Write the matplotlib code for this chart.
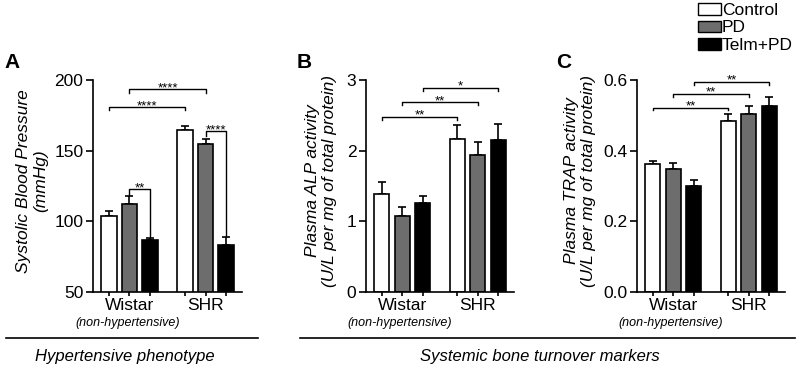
import matplotlib
matplotlib.use("Agg")
import matplotlib.pyplot as plt
from matplotlib.lines import Line2D
from matplotlib.patches import Patch
import numpy as np

plt.rcParams['font.family'] = ['Liberation Sans', 'DejaVu Sans']

# ---------------- data ----------------
groups = ["Wistar", "SHR"]
group_note = "(non-hypertensive)"
treatments = ["Control", "PD", "Telm+PD"]

# Panel A: systolic blood pressure (mmHg)
sbp_mean = {"Control": [103.8, 164.9], "PD": [112.6, 155.0], "Telm+PD": [86.9, 83.3]}
sbp_err = {"Control": [3.3, 2.2], "PD": [5.3, 3.0], "Telm+PD": [1.6, 5.6]}
# Panel B: plasma ALP activity
alp_mean = {"Control": [1.39, 2.17], "PD": [1.08, 1.94], "Telm+PD": [1.26, 2.15]}
alp_err = {"Control": [0.16, 0.20], "PD": [0.12, 0.18], "Telm+PD": [0.10, 0.23]}
# Panel C: plasma TRAP activity
trap_mean = {"Control": [0.361, 0.483], "PD": [0.349, 0.505], "Telm+PD": [0.299, 0.527]}
trap_err = {"Control": [0.011, 0.022], "PD": [0.016, 0.022], "Telm+PD": [0.017, 0.026]}

# significance brackets: (group1, treat1, group2, treat2, y, label, left leg end, right leg end)
brackets_A = [(0, 0, 1, 0, 180.9, "****", 178.6, 178.6),
              (0, 1, 1, 1, 193.4, "****", 191.1, 191.1),
              (1, 1, 1, 2, 163.9, "****", 160.6, 89.5),
              (0, 1, 0, 2, 122.6, "**", 118.3, 89.0)]
brackets_B = [(0, 0, 1, 0, 2.48, "**", 2.44, 2.44),
              (0, 1, 1, 1, 2.69, "**", 2.65, 2.65),
              (0, 2, 1, 2, 2.89, "*", 2.85, 2.85)]
brackets_C = [(0, 0, 1, 0, 0.522, "**", 0.514, 0.514),
              (0, 1, 1, 1, 0.561, "**", 0.553, 0.553),
              (0, 2, 1, 2, 0.595, "**", 0.587, 0.587)]

ylabels = ["Systolic Blood Pressure\n(mmHg)",
           "Plasma ALP activity\n(U/L per mg of total protein)",
           "Plasma TRAP activity\n(U/L per mg of total protein)"]
yticks = [[50, 100, 150, 200], [0, 1, 2, 3], [0.0, 0.2, 0.4, 0.6]]
yticklabels = [["50", "100", "150", "200"], ["0", "1", "2", "3"], ["0.0", "0.2", "0.4", "0.6"]]
ylims = [(50, 200), (0, 3), (0, 0.6)]
panel_letters = ["A", "B", "C"]
section_titles = ["Hypertensive phenotype", "Systemic bone turnover markers"]

# ---------------- style ----------------
W, H = 799, 368
fig = plt.figure(figsize=(W / 100, H / 100), dpi=100)
colors = {"Control": "white", "PD": "#6d6d6d", "Telm+PD": "black"}
offsets = [-0.27, 0.0, 0.27]
bar_w = 0.2

def px_axes(l, r, top, bot):
    return fig.add_axes([l / W, 1 - bot / H, (r - l) / W, (bot - top) / H])

axes_px = [(93, 242, 80, 292), (366, 514, 80, 292), (637, 785, 80, 292)]
means = [sbp_mean, alp_mean, trap_mean]
errs = [sbp_err, alp_err, trap_err]
brackets = [brackets_A, brackets_B, brackets_C]
ylab_x = [32, 321, 580]
letter_x = [4, 297, 556]

gx = np.arange(len(groups))
for i in range(3):
    ax = px_axes(*axes_px[i])
    allpos = []
    for t, tr in enumerate(treatments):
        pos = gx + offsets[t]
        allpos.extend(pos)
        ax.bar(pos, means[i][tr], width=bar_w, color=colors[tr], edgecolor="black",
               linewidth=1.2, zorder=2)
        ax.errorbar(pos, means[i][tr], yerr=[np.zeros(len(groups)), errs[i][tr]],
                    fmt="none", ecolor="black", elinewidth=1.2, capsize=2.6,
                    capthick=1.2, zorder=1)
    ax.set_xlim(-0.48, 1.48)
    ax.set_ylim(*ylims[i])
    ax.set_yticks(yticks[i])
    ax.set_yticklabels(yticklabels[i], fontsize=12.5)
    ax.set_xticks(sorted(allpos))
    ax.set_xticklabels([])
    ax.tick_params(axis="y", length=5, width=1.2, pad=2)
    ax.tick_params(axis="x", length=3, width=1.2)
    for s in ["top", "right"]:
        ax.spines[s].set_visible(False)
    for s in ["left", "bottom"]:
        ax.spines[s].set_linewidth(1.2)
    trans = ax.get_xaxis_transform()
    for g, name in enumerate(groups):
        ax.text(gx[g], -0.062, name, transform=trans, ha="center", va="center", fontsize=12.5)
    ax.text(gx[0] - 0.03, -0.147, group_note, transform=trans, ha="center", va="center",
            fontsize=9, style="italic")
    # brackets
    for g1, t1, g2, t2, y, lab, l1, l2 in brackets[i]:
        x1 = gx[g1] + offsets[t1]
        x2 = gx[g2] + offsets[t2]
        ax.plot([x1, x1, x2, x2], [l1, y, y, l2], color="black", lw=1.0,
                clip_on=False, zorder=3)
        ax.annotate(lab, xy=((x1 + x2) / 2, y), xytext=(0, -1.5),
                    textcoords="offset points", ha="center", va="baseline",
                    fontsize=9.5, annotation_clip=False)
    # y label
    fig.text(ylab_x[i] / W, 1 - 181 / H, ylabels[i], rotation=90, ha="center",
             va="center", multialignment="center", fontsize=12.5, style="italic",
             linespacing=1.2)
    fig.text(letter_x[i] / W, 1 - 62 / H, panel_letters[i], fontsize=15,
             fontweight="bold", ha="left", va="center")

# legend
handles = [Patch(facecolor=colors[tr], edgecolor="black", linewidth=1.0) for tr in treatments]
fig.legend(handles, treatments, loc="upper left", bbox_to_anchor=(698 / W, 1 - 3 / H),
           frameon=False, fontsize=12.5, handlelength=1.3, handleheight=0.65,
           handletextpad=0.08, labelspacing=0.14, borderpad=0.0, borderaxespad=0.0)

# section lines and titles
yl = 1 - 338 / H
fig.add_artist(Line2D([6 / W, 258 / W], [yl, yl], transform=fig.transFigure,
                      color="black", lw=1.2))
fig.add_artist(Line2D([300 / W, 795 / W], [yl, yl], transform=fig.transFigure,
                      color="black", lw=1.2))
fig.text(125 / W, 1 - 357 / H, section_titles[0], ha="center", va="center",
         fontsize=12, style="italic")
fig.text(540 / W, 1 - 357 / H, section_titles[1], ha="center", va="center",
         fontsize=12, style="italic")

fig.savefig("out.png", dpi=100)
